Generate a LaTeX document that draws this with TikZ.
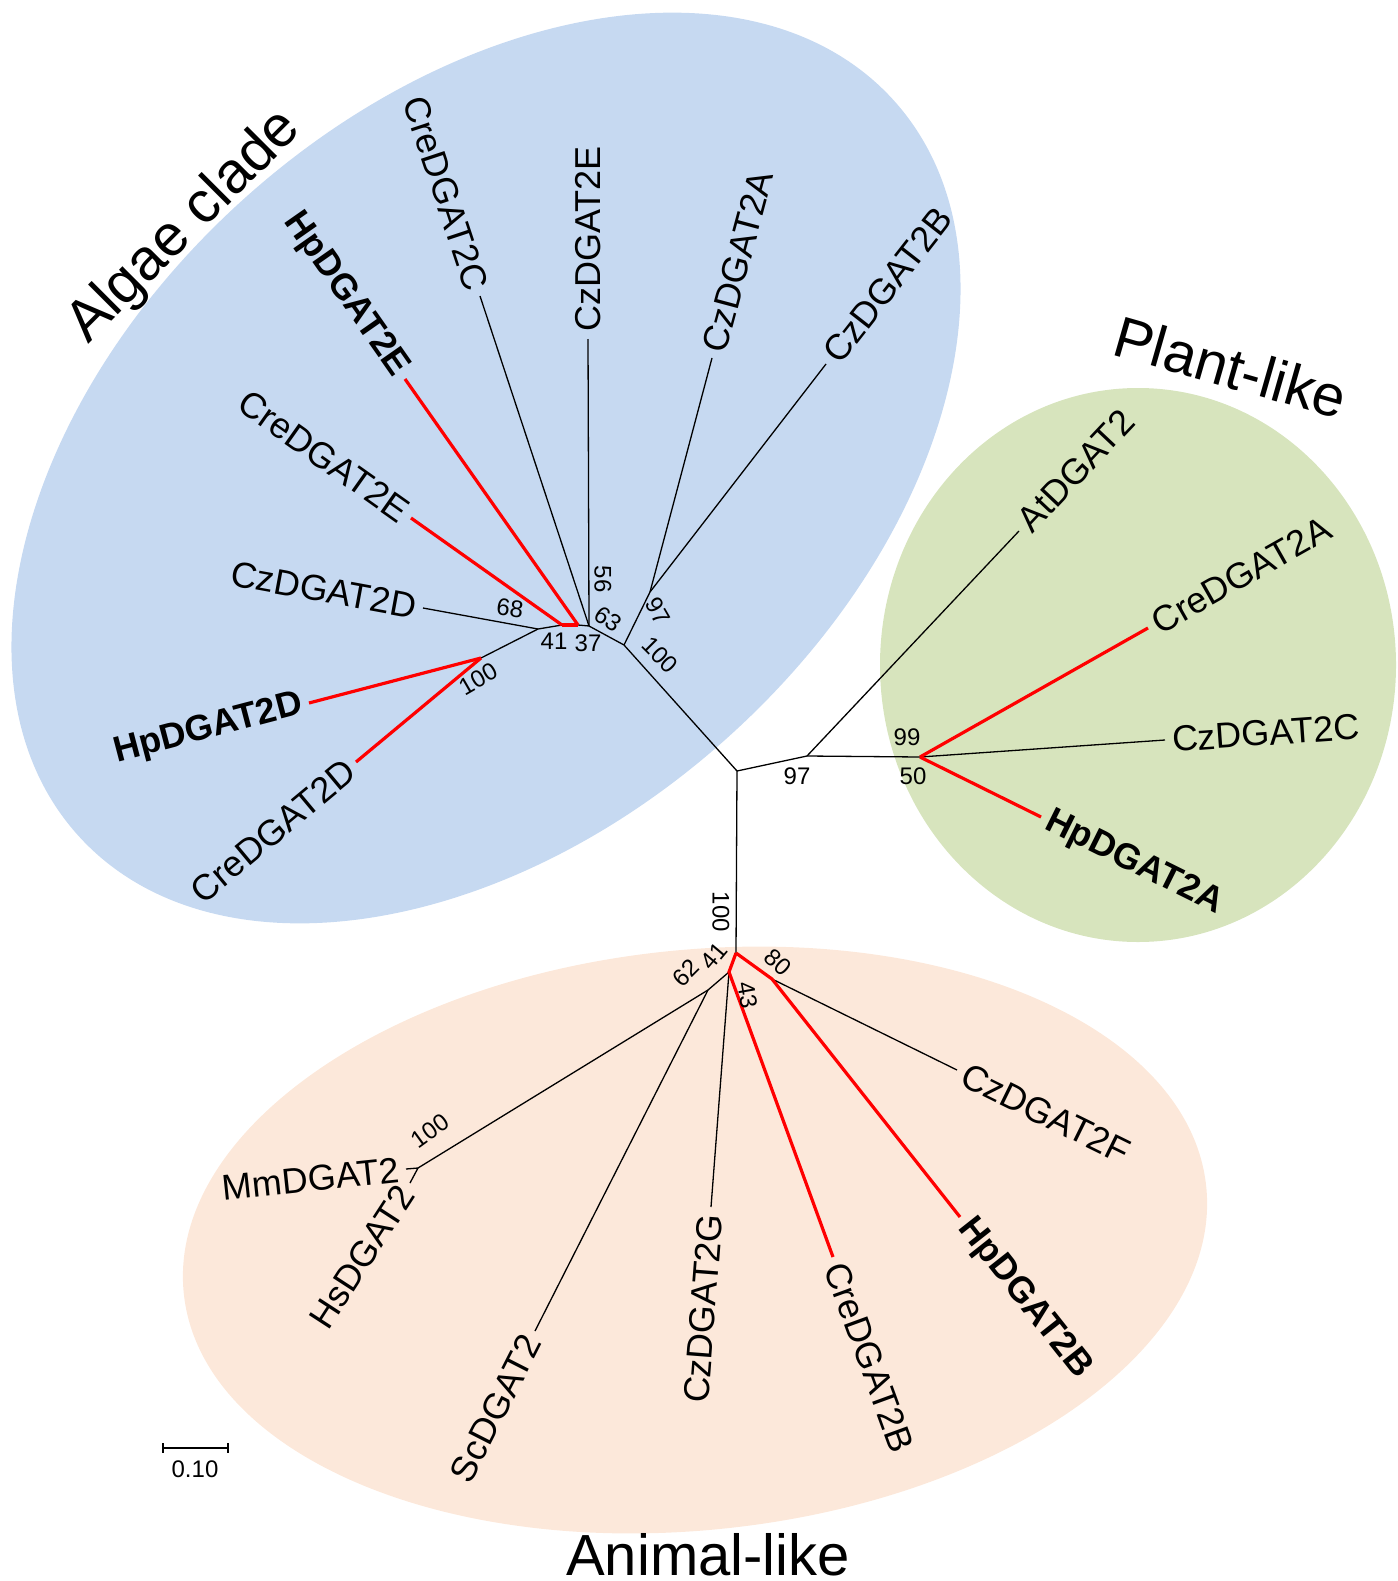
\documentclass[tikz,border=0pt]{standalone}
\usepackage{fontspec}
\setmainfont{Liberation Sans}
\usepackage{tikz}
\usetikzlibrary{positioning}
\definecolor{algaefill}{HTML}{C6D9F1}
\definecolor{plantfill}{HTML}{D7E4BD}
\definecolor{animalfill}{HTML}{FCE8DA}
\tikzset{
  branch/.style={line width=1.3pt},
  hpbranch/.style={red, line width=3.2pt},
  leaf/.style={font=\fontsize{36}{40}\selectfont, inner sep=7pt},
  hpleaf/.style={leaf, font=\fontsize{36}{40}\selectfont\bfseries},
  boot/.style={font=\fontsize{24}{26}\selectfont, inner sep=0pt},
  clade/.style={font=\fontsize{58}{62}\selectfont, inner sep=0pt}
}

\begin{document}
\begin{tikzpicture}[x=1pt, y=-1pt]
\useasboundingbox (0,0) rectangle (1397,1581);

\fill[algaefill, rotate around={42:(486,468)}] (486,468) ellipse [x radius=549pt, y radius=362pt];
\fill[plantfill] (1138,665) ellipse [x radius=258pt, y radius=277pt];
\fill[animalfill, rotate around={6:(695,1240)}] (695,1240) ellipse [x radius=514pt, y radius=290pt];

\coordinate (C) at (737,771);
\coordinate (K) at (624,645);
\coordinate (Q) at (650,592);
\coordinate (J) at (589,626);
\coordinate (R2) at (578,625);
\coordinate (R1) at (562,625);
\coordinate (A) at (538,629);
\coordinate (B) at (481,658);
\coordinate (P1) at (807,756);
\coordinate (P2) at (920,757);
\coordinate (D) at (736,953);
\coordinate (E) at (729,972);
\coordinate (F) at (772,979);
\coordinate (G) at (708,990);
\coordinate (M) at (418,1168);

\node[leaf, anchor=east, rotate=-71.7] (creC) at (480,296) {CreDGAT2C};
\node[leaf, anchor=west, rotate=90] (czE) at (588,339) {CzDGAT2E};
\node[leaf, anchor=west, rotate=75] (czA) at (712,358) {CzDGAT2A};
\node[leaf, anchor=west, rotate=52] (czB) at (826,364) {CzDGAT2B};
\node[hpleaf, anchor=east, rotate=-55] (hpE) at (405,379) {HpDGAT2E};
\node[leaf, anchor=east, rotate=-35.3] (creE) at (411,518) {CreDGAT2E};
\node[leaf, anchor=east, rotate=-10.4] (czD) at (423,608) {CzDGAT2D};
\node[hpleaf, anchor=east, rotate=14.7] (hpD) at (309,703) {HpDGAT2D};
\node[leaf, anchor=east, rotate=39.8] (creD) at (356,762) {CreDGAT2D};
\node[leaf, anchor=west, rotate=46.7] (at) at (1019,531) {AtDGAT2};
\node[leaf, anchor=west, rotate=29.5] (creA) at (1148,628) {CreDGAT2A};
\node[leaf, anchor=west, rotate=4] (czC) at (1165,740) {CzDGAT2C};
\node[hpleaf, anchor=west, rotate=-26.4] (hpA) at (1041,817) {HpDGAT2A};
\node[leaf, anchor=west, rotate=-26.2] (czF) at (957,1070) {CzDGAT2F};
\node[hpleaf, anchor=west, rotate=-51.7] (hpB) at (960,1217) {HpDGAT2B};
\node[leaf, anchor=west, rotate=-70] (creB) at (833,1257) {CreDGAT2B};
\node[leaf, anchor=east, rotate=85.6] (czG) at (711,1207) {CzDGAT2G};
\node[leaf, anchor=east, rotate=63] (sc) at (535,1331) {ScDGAT2};
\node[leaf, anchor=east, rotate=57] (hs) at (410,1183) {HsDGAT2};
\node[leaf, anchor=east, rotate=6] (mm) at (406,1169) {MmDGAT2};

\draw[branch] (C) -- (K) -- (J) -- (R2);
\draw[branch] (R1) -- (A) -- (B);
\draw[branch] (K) -- (Q) -- (czA.west);
\draw[branch] (Q) -- (czB.west);
\draw[branch] (J) -- (creC.east);
\draw[branch] (J) -- (czE.west);
\draw[branch] (A) -- (czD.east);
\draw[hpbranch] (R1) -- (R2);
\draw[hpbranch] (R1) -- (creE.east);
\draw[hpbranch] (R2) -- (hpE.east);
\draw[hpbranch] (B) -- (hpD.east);
\draw[hpbranch] (B) -- (creD.east);

\draw[branch] (C) -- (P1) -- (P2) -- (czC.west);
\draw[branch] (P1) -- (at.west);
\draw[hpbranch] (P2) -- (creA.west);
\draw[hpbranch] (P2) -- (hpA.west);

\draw[branch] (C) -- (D);
\draw[branch] (E) -- (G) -- (M) -- (mm.east);
\draw[branch] (M) -- (hs.east);
\draw[branch] (G) -- (sc.east);
\draw[branch] (E) -- (czG.east);
\draw[branch] (F) -- (czF.west);
\draw[hpbranch] (D) -- (E) -- (creB.west);
\draw[hpbranch] (D) -- (F) -- (hpB.west);

\node[boot, rotate=-8] (b68) at (510,608) {68};
\node[boot] (b41a) at (554,641) {41};
\node[boot] (b37) at (588,643) {37};
\node[boot, rotate=-90] (b56) at (603,579) {56};
\node[boot, rotate=-35] (b63) at (608,619) {63};
\node[boot, rotate=-60] (b97a) at (658,611) {97};
\node[boot, rotate=-45] (b100a) at (660,655) {100};
\node[boot, rotate=30] (b100b) at (478,679) {100};
\node[boot] (b97b) at (797,776) {97};
\node[boot] (b99) at (907,737) {99};
\node[boot] (b50) at (913,776) {50};
\node[boot, rotate=-90] (b100c) at (721,912) {100};
\node[boot, rotate=50] (b41b) at (714,956) {41};
\node[boot, rotate=45] (b62) at (686,973) {62};
\node[boot, rotate=-42] (b80) at (778,962) {80};
\node[boot, rotate=-80] (b43) at (748,995) {43};
\node[boot, rotate=36] (b100d) at (430,1131) {100};

\node[clade, rotate=45] (algae) at (185,227) {Algae clade};
\node[clade, rotate=-16] (plant) at (1231,367) {Plant-like};
\node[clade, anchor=base] (animal) at (708,1575) {Animal-like};

\coordinate (s0) at (163,1448);
\coordinate (s1) at (228,1448);
\draw[line width=1.2pt] (s0) -- (s1);
\draw[line width=1.2pt] (s0) ++(0,-5) -- ++(0,10);
\draw[line width=1.2pt] (s1) ++(0,-5) -- ++(0,10);
\node[font=\fontsize{24}{26}\selectfont, inner sep=0pt] (sbar) at (195,1469) {0.10};
\end{tikzpicture}
\end{document}
